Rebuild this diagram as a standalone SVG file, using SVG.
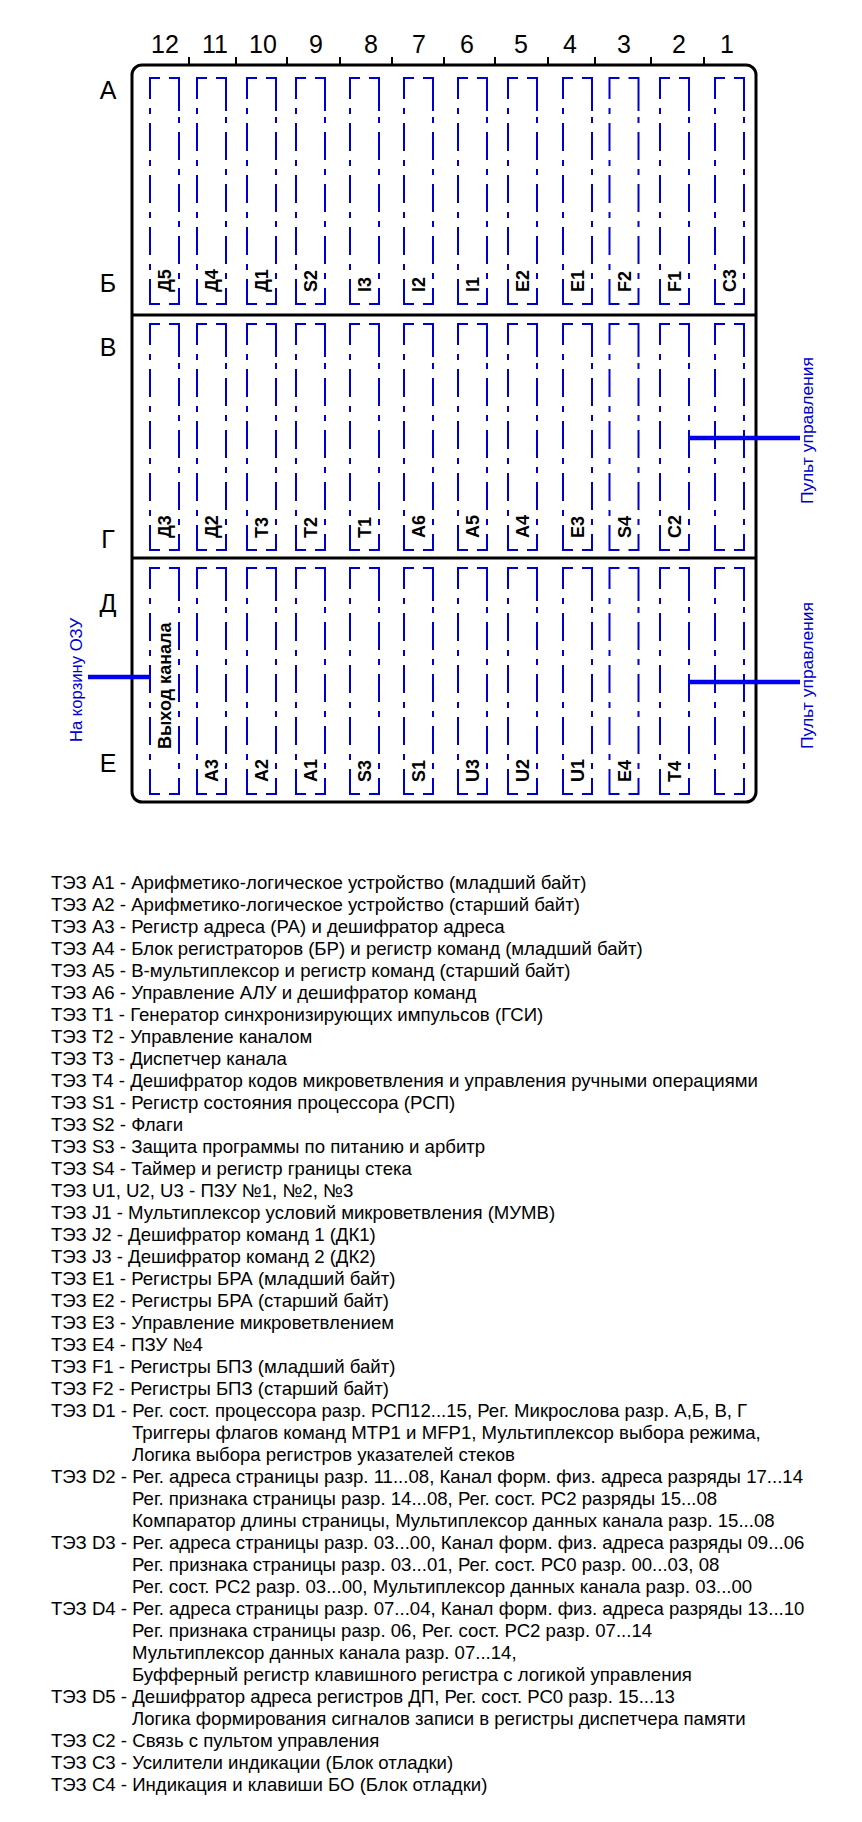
<svg xmlns="http://www.w3.org/2000/svg" xmlns:xlink="http://www.w3.org/1999/xlink" width="862" height="1822" viewBox="0 0 862 1822">
<style>
.fr{fill:none;stroke:#000;stroke-width:3}
.tk{stroke:#000;stroke-width:2}
.sl{fill:none;stroke:#0000CC;stroke-width:2}
.dd{stroke-dasharray:6 9 28 9}
.hd{font-family:"Liberation Sans",Arial,sans-serif;font-size:25px;fill:#000;text-anchor:middle}
.lbl{font-family:"Liberation Sans",Arial,sans-serif;font-size:18px;font-weight:bold;fill:#000}
.con{stroke:#0000EE;stroke-width:4.5}
.ctx{font-family:"Liberation Sans",Arial,sans-serif;font-size:16.5px;fill:#0000CC;text-anchor:middle}
.lg{font-family:"Liberation Sans",Arial,sans-serif;font-size:18.6px;fill:#000}
</style>
<defs>
<g id="slot">
<path class="sl" d="M0,21 V0 H10 M19,0 H29 V33 M0,205 V226 H10 M19,226 H29 V210"/>
<path class="sl dd" d="M0,30 V205"/>
<path class="sl dd" d="M29,39 V210"/>
</g>
</defs>
<rect width="862" height="1822" fill="#fff"/>
<g id="frame">
<rect class="fr" x="132" y="65" width="624" height="737" rx="10"/>
<line class="fr" x1="132" y1="315" x2="756" y2="315"/>
<line class="fr" x1="132" y1="558" x2="756" y2="558"/>
<path class="tk" d="M189,57V65M236,57V65M287,57V65M340,57V65M392,57V65M444,57V65M495,57V65M548,57V65M595,57V65M651,57V65M704,57V65"/>
<text class="hd" x="165" y="53">12</text>
<text class="hd" x="215" y="53">11</text>
<text class="hd" x="263" y="53">10</text>
<text class="hd" x="316" y="53">9</text>
<text class="hd" x="371" y="53">8</text>
<text class="hd" x="419" y="53">7</text>
<text class="hd" x="467" y="53">6</text>
<text class="hd" x="521" y="53">5</text>
<text class="hd" x="570" y="53">4</text>
<text class="hd" x="624" y="53">3</text>
<text class="hd" x="679" y="53">2</text>
<text class="hd" x="727" y="53">1</text>
<text class="hd" x="108" y="99">А</text>
<text class="hd" x="108" y="292">Б</text>
<text class="hd" x="108" y="356">В</text>
<text class="hd" x="108" y="548">Г</text>
<text class="hd" x="108" y="612">Д</text>
<text class="hd" x="108" y="772">Е</text>
</g>
<g id="row-AB">
<g id="s12-ab"><use xlink:href="#slot" x="150" y="78"/><text class="lbl" transform="translate(171,292) rotate(-90)">Д5</text></g>
<g id="s11-ab"><use xlink:href="#slot" x="197" y="78"/><text class="lbl" transform="translate(218,292) rotate(-90)">Д4</text></g>
<g id="s10-ab"><use xlink:href="#slot" x="247" y="78"/><text class="lbl" transform="translate(268,292) rotate(-90)">Д1</text></g>
<g id="s9-ab"><use xlink:href="#slot" x="296" y="78"/><text class="lbl" transform="translate(317,292) rotate(-90)">S2</text></g>
<g id="s8-ab"><use xlink:href="#slot" x="350" y="78"/><text class="lbl" transform="translate(371,292) rotate(-90)">I3</text></g>
<g id="s7-ab"><use xlink:href="#slot" x="404" y="78"/><text class="lbl" transform="translate(425,292) rotate(-90)">I2</text></g>
<g id="s6-ab"><use xlink:href="#slot" x="458" y="78"/><text class="lbl" transform="translate(479,292) rotate(-90)">I1</text></g>
<g id="s5-ab"><use xlink:href="#slot" x="508" y="78"/><text class="lbl" transform="translate(529,292) rotate(-90)">E2</text></g>
<g id="s4-ab"><use xlink:href="#slot" x="563" y="78"/><text class="lbl" transform="translate(584,292) rotate(-90)">E1</text></g>
<g id="s3-ab"><use xlink:href="#slot" x="609.5" y="78"/><text class="lbl" transform="translate(630.5,292) rotate(-90)">F2</text></g>
<g id="s2-ab"><use xlink:href="#slot" x="660" y="78"/><text class="lbl" transform="translate(681,292) rotate(-90)">F1</text></g>
<g id="s1-ab"><use xlink:href="#slot" x="715" y="78"/><text class="lbl" transform="translate(736,292) rotate(-90)">C3</text></g>
</g>
<g id="row-VG">
<g id="s12-vg"><use xlink:href="#slot" x="150" y="324"/><text class="lbl" transform="translate(171,538) rotate(-90)">Д3</text></g>
<g id="s11-vg"><use xlink:href="#slot" x="197" y="324"/><text class="lbl" transform="translate(218,538) rotate(-90)">Д2</text></g>
<g id="s10-vg"><use xlink:href="#slot" x="247" y="324"/><text class="lbl" transform="translate(268,538) rotate(-90)">T3</text></g>
<g id="s9-vg"><use xlink:href="#slot" x="296" y="324"/><text class="lbl" transform="translate(317,538) rotate(-90)">T2</text></g>
<g id="s8-vg"><use xlink:href="#slot" x="350" y="324"/><text class="lbl" transform="translate(371,538) rotate(-90)">T1</text></g>
<g id="s7-vg"><use xlink:href="#slot" x="404" y="324"/><text class="lbl" transform="translate(425,538) rotate(-90)">A6</text></g>
<g id="s6-vg"><use xlink:href="#slot" x="458" y="324"/><text class="lbl" transform="translate(479,538) rotate(-90)">A5</text></g>
<g id="s5-vg"><use xlink:href="#slot" x="508" y="324"/><text class="lbl" transform="translate(529,538) rotate(-90)">A4</text></g>
<g id="s4-vg"><use xlink:href="#slot" x="563" y="324"/><text class="lbl" transform="translate(584,538) rotate(-90)">E3</text></g>
<g id="s3-vg"><use xlink:href="#slot" x="609.5" y="324"/><text class="lbl" transform="translate(630.5,538) rotate(-90)">S4</text></g>
<g id="s2-vg"><use xlink:href="#slot" x="660" y="324"/><text class="lbl" transform="translate(681,538) rotate(-90)">C2</text></g>
<g id="s1-vg"><use xlink:href="#slot" x="715" y="324"/></g>
</g>
<g id="row-DE">
<g id="s12-de"><use xlink:href="#slot" x="150" y="568"/><text class="lbl" transform="translate(171,749) rotate(-90)">Выход канала</text></g>
<g id="s11-de"><use xlink:href="#slot" x="197" y="568"/><text class="lbl" transform="translate(218,782) rotate(-90)">A3</text></g>
<g id="s10-de"><use xlink:href="#slot" x="247" y="568"/><text class="lbl" transform="translate(268,782) rotate(-90)">A2</text></g>
<g id="s9-de"><use xlink:href="#slot" x="296" y="568"/><text class="lbl" transform="translate(317,782) rotate(-90)">A1</text></g>
<g id="s8-de"><use xlink:href="#slot" x="350" y="568"/><text class="lbl" transform="translate(371,782) rotate(-90)">S3</text></g>
<g id="s7-de"><use xlink:href="#slot" x="404" y="568"/><text class="lbl" transform="translate(425,782) rotate(-90)">S1</text></g>
<g id="s6-de"><use xlink:href="#slot" x="458" y="568"/><text class="lbl" transform="translate(479,782) rotate(-90)">U3</text></g>
<g id="s5-de"><use xlink:href="#slot" x="508" y="568"/><text class="lbl" transform="translate(529,782) rotate(-90)">U2</text></g>
<g id="s4-de"><use xlink:href="#slot" x="563" y="568"/><text class="lbl" transform="translate(584,782) rotate(-90)">U1</text></g>
<g id="s3-de"><use xlink:href="#slot" x="609.5" y="568"/><text class="lbl" transform="translate(630.5,782) rotate(-90)">E4</text></g>
<g id="s2-de"><use xlink:href="#slot" x="660" y="568"/><text class="lbl" transform="translate(681,782) rotate(-90)">T4</text></g>
<g id="s1-de"><use xlink:href="#slot" x="715" y="568"/></g>
</g>
<g id="connectors">
<line class="con" x1="689" y1="438" x2="800" y2="438"/>
<line class="con" x1="689" y1="682" x2="800" y2="682"/>
<line class="con" x1="88" y1="677" x2="150" y2="677"/>
<text class="ctx" transform="translate(813,430.5) rotate(-90)" textLength="147" lengthAdjust="spacingAndGlyphs">Пульт управления</text>
<text class="ctx" transform="translate(813,675.5) rotate(-90)" textLength="147" lengthAdjust="spacingAndGlyphs">Пульт управления</text>
<text class="ctx" transform="translate(82,680) rotate(-90)" textLength="124" lengthAdjust="spacingAndGlyphs">На корзину ОЗУ</text>
</g>
<g id="legend" class="lg">
<text x="51" y="889">ТЭЗ A1 - Арифметико-логическое устройство (младший байт)</text>
<text x="51" y="911">ТЭЗ A2 - Арифметико-логическое устройство (старший байт)</text>
<text x="51" y="933">ТЭЗ A3 - Регистр адреса (РА) и дешифратор адреса</text>
<text x="51" y="955">ТЭЗ A4 - Блок регистраторов (БР) и регистр команд (младший байт)</text>
<text x="51" y="977">ТЭЗ A5 - В-мультиплексор и регистр команд (старший байт)</text>
<text x="51" y="999">ТЭЗ A6 - Управление АЛУ и дешифратор команд</text>
<text x="51" y="1021">ТЭЗ T1 - Генератор синхронизирующих импульсов (ГСИ)</text>
<text x="51" y="1043">ТЭЗ T2 - Управление каналом</text>
<text x="51" y="1065">ТЭЗ T3 - Диспетчер канала</text>
<text x="51" y="1087">ТЭЗ T4 - Дешифратор кодов микроветвления и управления ручными операциями</text>
<text x="51" y="1109">ТЭЗ S1 - Регистр состояния процессора (РСП)</text>
<text x="51" y="1131">ТЭЗ S2 - Флаги</text>
<text x="51" y="1153">ТЭЗ S3 - Защита программы по питанию и арбитр</text>
<text x="51" y="1175">ТЭЗ S4 - Таймер и регистр границы стека</text>
<text x="51" y="1197">ТЭЗ U1, U2, U3 - ПЗУ №1, №2, №3</text>
<text x="51" y="1219">ТЭЗ J1 - Мультиплексор условий микроветвления (МУМВ)</text>
<text x="51" y="1241">ТЭЗ J2 - Дешифратор команд 1 (ДК1)</text>
<text x="51" y="1263">ТЭЗ J3 - Дешифратор команд 2 (ДК2)</text>
<text x="51" y="1285">ТЭЗ E1 - Регистры БРА (младший байт)</text>
<text x="51" y="1307">ТЭЗ E2 - Регистры БРА (старший байт)</text>
<text x="51" y="1329">ТЭЗ E3 - Управление микроветвлением</text>
<text x="51" y="1351">ТЭЗ E4 - ПЗУ №4</text>
<text x="51" y="1373">ТЭЗ F1 - Регистры БПЗ (младший байт)</text>
<text x="51" y="1395">ТЭЗ F2 - Регистры БПЗ (старший байт)</text>
<text x="51" y="1417">ТЭЗ D1 - Рег. сост. процессора разр. РСП12...15, Рег. Микрослова разр. А,Б, В, Г</text>
<text x="132" y="1439">Триггеры флагов команд МТР1 и МFР1, Мультиплексор выбора режима,</text>
<text x="132" y="1461">Логика выбора регистров указателей стеков</text>
<text x="51" y="1483">ТЭЗ D2 - Рег. адреса страницы разр. 11...08, Канал форм. физ. адреса разряды 17...14</text>
<text x="132" y="1505">Рег. признака страницы разр. 14...08, Рег. сост. РС2 разряды 15...08</text>
<text x="132" y="1527">Компаратор длины страницы, Мультиплексор данных канала разр. 15...08</text>
<text x="51" y="1549">ТЭЗ D3 - Рег. адреса страницы разр. 03...00, Канал форм. физ. адреса разряды 09...06</text>
<text x="132" y="1571">Рег. признака страницы разр. 03...01, Рег. сост. РС0 разр. 00...03, 08</text>
<text x="132" y="1593">Рег. сост. РС2 разр. 03...00, Мультиплексор данных канала разр. 03...00</text>
<text x="51" y="1615">ТЭЗ D4 - Рег. адреса страницы разр. 07...04, Канал форм. физ. адреса разряды 13...10</text>
<text x="132" y="1637">Рег. признака страницы разр. 06, Рег. сост. РС2 разр. 07...14</text>
<text x="132" y="1659">Мультиплексор данных канала разр. 07...14,</text>
<text x="132" y="1681">Буфферный регистр клавишного регистра с логикой управления</text>
<text x="51" y="1703">ТЭЗ D5 - Дешифратор адреса регистров ДП, Рег. сост. РС0 разр. 15...13</text>
<text x="132" y="1725">Логика формирования сигналов записи в регистры диспетчера памяти</text>
<text x="51" y="1747">ТЭЗ C2 - Связь с пультом управления</text>
<text x="51" y="1769">ТЭЗ C3 - Усилители индикации (Блок отладки)</text>
<text x="51" y="1791">ТЭЗ C4 - Индикация и клавиши БО (Блок отладки)</text>
</g>
</svg>
